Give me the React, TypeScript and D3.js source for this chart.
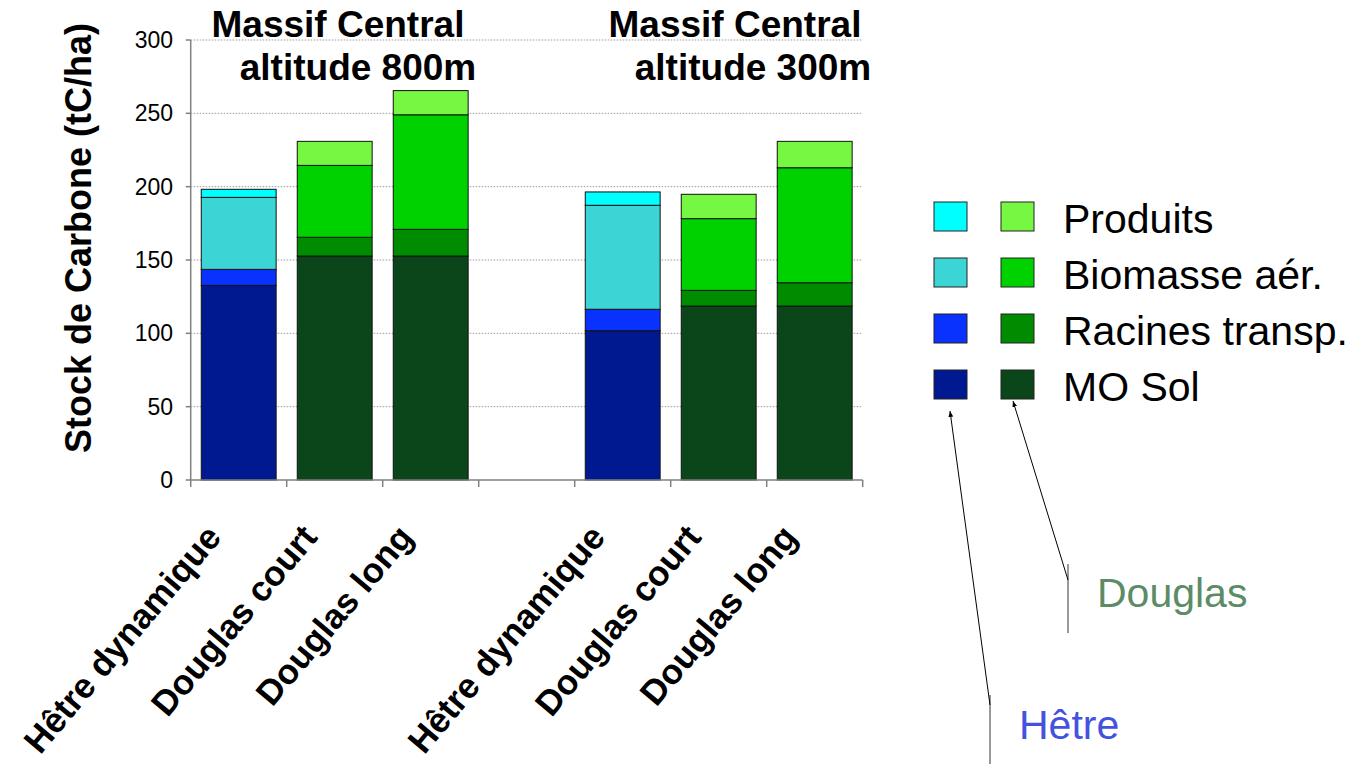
import React from "react";
import * as d3 from "d3";

const categories = ["Hêtre dynamique", "Douglas court", "Douglas long", "", "Hêtre dynamique", "Douglas court", "Douglas long"];
const species = ["Hêtre", "Douglas", "Douglas", "", "Hêtre", "Douglas", "Douglas"];
const moSol = [132.7, 152.7, 152.7, 0, 101.8, 118.6, 118.6];
const racines = [10.9, 12.8, 18.2, 0, 14.6, 10.7, 15.9];
const biomasse = [49.1, 49.0, 78.1, 0, 70.9, 48.9, 78.4];
const produits = [5.5, 16.4, 16.5, 0, 9.1, 16.6, 18.0];
const seriesNames = ["MO Sol", "Racines transp.", "Biomasse aér.", "Produits"];
const hetreColors = ["#001990", "#0A32FF", "#3CD5D5", "#00FFFF"];
const douglasColors = ["#0A461A", "#008C00", "#00D200", "#76F842"];
const yTicks = [0, 50, 100, 150, 200, 250, 300];
const groupTitles = [
  { lines: ["Massif Central", "altitude 800m"], cx: [338, 358] },
  { lines: ["Massif Central", "altitude 300m"], cx: [735, 753] },
];

const FONT = "'Liberation Sans', Arial, Helvetica, sans-serif";

export default function App() {
  const W = 1359, H = 764;
  const x0 = 190.7, x1 = 862.7, yBottom = 480, yTop = 40;
  const idx = categories.map((_, i) => String(i));
  const x = d3.scaleBand().domain(idx).range([x0, x1]).paddingInner(0.22).paddingOuter(0.11);
  const y = d3.scaleLinear().domain([0, 300]).range([yBottom, yTop]);
  const step = x.step();
  const rows = categories.map((_, i) => ({ i, s0: moSol[i], s1: racines[i], s2: biomasse[i], s3: produits[i] }));
  const stack = d3.stack<any>().keys(["s0", "s1", "s2", "s3"]);
  const stacked = stack(rows);
  const boundaries = d3.range(categories.length + 1).map((k) => x0 + k * step);

  const legendRows = [3, 2, 1, 0];
  const legendY = [202, 258, 314, 370];

  return (
    <svg width={W} height={H} style={{ position: "absolute", left: 0, top: 0, display: "block", background: "#fff" }} fontFamily={FONT}>
      <defs>
        <marker id="arr" viewBox="0 0 10 10" refX="10" refY="5" markerWidth="6" markerHeight="6" orient="auto-start-reverse">
          <path d="M0,1 L10,5 L0,9 z" fill="#000" />
        </marker>
      </defs>
      {/* grid */}
      {yTicks.filter((t) => t > 0).map((t) => (
        <line key={"g" + t} x1={x0} x2={x1 - 1} y1={y(t)} y2={y(t)} stroke="#9a9a9a" strokeWidth={1} strokeDasharray="1.5,1.5" />
      ))}
      {/* bars */}
      {stacked.map((layer, li) =>
        layer.map((d, i) => {
          if (d[1] - d[0] <= 0) return null;
          const col = species[i] === "Hêtre" ? hetreColors[li] : douglasColors[li];
          return (
            <rect key={li + "-" + i} x={x(String(i))} width={x.bandwidth()} y={y(d[1])} height={y(d[0]) - y(d[1])} fill={col} stroke="#111" strokeWidth={1} />
          );
        })
      )}
      {/* axes */}
      <line x1={x0} x2={x0} y1={yTop} y2={yBottom} stroke="#808080" strokeWidth={1.5} />
      <line x1={x0} x2={x1} y1={yBottom} y2={yBottom} stroke="#808080" strokeWidth={1.5} />
      {yTicks.map((t) => (
        <g key={"yt" + t}>
          <line x1={x0 - 5} x2={x0} y1={y(t)} y2={y(t)} stroke="#808080" strokeWidth={1.5} />
          <text x={173} y={y(t)} dy="0.35em" textAnchor="end" fontSize={23} fill="#000">{t}</text>
        </g>
      ))}
      {boundaries.map((bx, k) => (
        <line key={"xt" + k} x1={bx} x2={bx} y1={yBottom} y2={yBottom + 7} stroke="#808080" strokeWidth={1.5} />
      ))}
      {/* x labels */}
      {categories.map((c, i) => {
        if (!c) return null;
        const cx = (x(String(i)) as number) + x.bandwidth() / 2 - 16;
        const cy = 538;
        return (
          <text key={"xl" + i} x={cx} y={cy} textAnchor="end" fontSize={35} fontWeight="bold" transform={`rotate(-50 ${cx} ${cy})`}>{c}</text>
        );
      })}
      {/* y label */}
      <text x={91} y={238} textAnchor="middle" fontSize={36} fontWeight="bold" transform="rotate(-90 91 238)">
        Stock de Carbone (tC/ha)
      </text>
      {/* group titles */}
      {groupTitles.map((g, gi) => (
        <g key={"t" + gi}>
          <text x={g.cx[0]} y={36.5} textAnchor="middle" fontSize={37} fontWeight="bold">{g.lines[0]}</text>
          <text x={g.cx[1]} y={80} textAnchor="middle" fontSize={37} fontWeight="bold">{g.lines[1]}</text>
        </g>
      ))}
      {/* legend */}
      {legendRows.map((si, r) => (
        <g key={"lg" + r}>
          <rect x={934} y={legendY[r]} width={33} height={29} fill={hetreColors[si]} stroke="#222" strokeWidth={1} />
          <rect x={1001} y={legendY[r]} width={33} height={29} fill={douglasColors[si]} stroke="#222" strokeWidth={1} />
          <text x={1063} y={legendY[r] + 31} fontSize={41} fill="#000">{seriesNames[si]}</text>
        </g>
      ))}
      {/* annotations */}
      <line x1={1068} x2={1068} y1={564} y2={633} stroke="#777" strokeWidth={1.5} />
      <line x1={1068} y1={580} x2={1013} y2={401} stroke="#000" strokeWidth={1} markerEnd="url(#arr)" />
      <text x={1097} y={607} fontSize={41} fill="#5B8C66">Douglas</text>
      <line x1={990} x2={990} y1={695} y2={764} stroke="#555" strokeWidth={1.2} />
      <line x1={990} y1={705} x2={950} y2={411} stroke="#000" strokeWidth={1} markerEnd="url(#arr)" />
      <text x={1019} y={739} fontSize={41} fill="#4452DD">Hêtre</text>
    </svg>
  );
}
